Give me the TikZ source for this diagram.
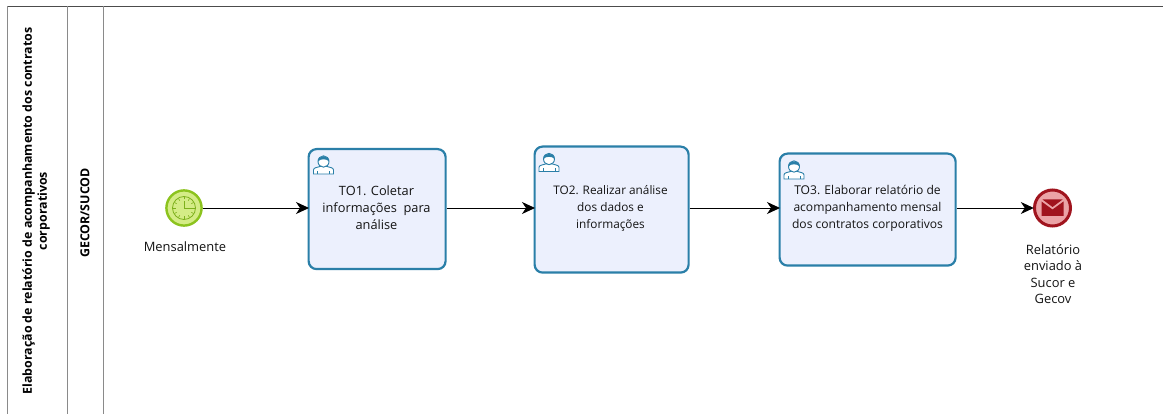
\documentclass[tikz,border=0pt]{standalone}
\usepackage{fontspec}
\setmainfont{Open Sans}
\usetikzlibrary{arrows.meta}
\definecolor{taskb}{HTML}{2A7FA8}
\definecolor{taskf}{HTML}{ECF0FD}
\definecolor{lanec}{HTML}{8A8A8A}
\definecolor{startb}{HTML}{8CC31E}
\definecolor{startf}{HTML}{D4EC86}
\definecolor{startd}{HTML}{7DB01C}
\definecolor{endb}{HTML}{A0141E}
\definecolor{endf}{HTML}{EBA3A6}
\tikzset{
  x=1pt,y=-1pt,
  tasknode/.style={draw=taskb,line width=2.2pt,fill=taskf,rounded corners=8pt,anchor=north west,inner sep=0pt},
  tasklabel/.style={align=center,text=black!92},
  evlabel/.style={align=center,font=\fontsize{12.9}{16.5}\selectfont,text=black!92},
  lanelabel/.style={align=center,rotate=90,font=\fontsize{12.4}{15}\selectfont\bfseries},
  flow/.style={draw=black,line width=0.9pt,shorten >=-1.5pt,-{Stealth[length=13pt,width=12pt,inset=4pt]}},
  lane/.style={draw=lanec,line width=0.8pt},
}
\newcommand{\usericon}[2]{%
  \begin{scope}[shift={(#1,#2)},draw=taskb,line width=0.9pt]
    \draw[fill=white] (-10,10) -- (-10,6) .. controls (-10,3.5) and (-6,3.5) .. (-3.5,2.5) -- (3.5,2.5) .. controls (6,3.5) and (10,3.5) .. (10,6) -- (10,10) -- cycle;
    \draw[fill=white] (0,-2.5) circle[x radius=5.5pt,y radius=5.7pt];
    \fill[taskb] (-5.6,-2.5) .. controls (-5.5,-9.5) and (5.5,-9.5) .. (5.6,-2.5) .. controls (3,-5.5) and (-3,-5.5) .. (-5.6,-2.5) -- cycle;
    \draw (-6,10) -- (-6,7) (6,10) -- (6,7);
  \end{scope}}
\begin{document}
\begin{tikzpicture}
\useasboundingbox (0,0) rectangle (1163,414);
\fill[white] (0,0) rectangle (1163,414);
% pool and lane
\coordinate (tl) at (7,6);
\coordinate (tr) at (1163,6);
\coordinate (bl) at (7,414);
\coordinate (m1t) at (67,6);
\coordinate (m1b) at (67,414);
\coordinate (m2t) at (103,6);
\coordinate (m2b) at (103,414);
\draw[line width=0.8pt,draw=black!70] (tl) -- (tr);
\draw[lane] (tl) -- (bl);
\draw[lane] (m1t) -- (m1b);
\draw[lane] (m2t) -- (m2b);
\node[lanelabel] (pool) at (36,211) {Elaboração de relatório de acompanhamento dos contratos\\corporativos};
\node[lanelabel] (lanetxt) at (85,213) {GECOR/SUCOD};
% start event
\node[circle,minimum size=38pt,inner sep=0pt] (start) at (184,208) {};
\draw[draw=startb,fill=startf,line width=2.4pt] (start.center) circle[radius=17.6pt];
\draw[draw=startd,fill=startf,line width=0.8pt] (start.center) circle[radius=11.5pt];
\foreach \a in {0,30,...,330}{\draw[draw=startd,line width=0.6pt] (184,208)++(\a:8.5) -- ++(\a:2.5);}
\draw[draw=startd,line width=0.8pt] (184,201) -- (184,208) -- (193,208);
\node[evlabel] (startl) at (185,247) {Mensalmente};
% tasks
\node[tasknode,minimum width=137pt,minimum height=120pt] (t1) at (307.5,148) {};
\node[tasklabel,font=\fontsize{12.8}{17}\selectfont] (t1l) at (376.5,208) {TO1. Coletar\\informações\ \ para\\análise};
\usericon{323.5}{164}
\node[tasknode,minimum width=154pt,minimum height=126pt] (t2) at (533.5,145.5) {};
\node[tasklabel,font=\fontsize{11.8}{17}\selectfont] (t2l) at (610.5,208) {TO2. Realizar análise\\dos dados e\\informações};
\usericon{549}{161.5}
\node[tasknode,minimum width=176pt,minimum height=112pt] (t3) at (778.5,152.5) {};
\node[tasklabel,font=\fontsize{12.1}{17}\selectfont] (t3l) at (867.5,208) {TO3. Elaborar relatório de\\acompanhamento mensal\\dos contratos corporativos};
\usericon{794}{169}
% end event
\node[circle,minimum size=40pt,inner sep=0pt] (end) at (1052.5,208) {};
\draw[draw=endb,fill=endf,line width=3pt] (end.center) circle[radius=18pt];
\fill[endb] (1041.5,201.5) -- (1052.5,209.5) -- (1063.5,201.5) -- (1063.5,216) -- (1041.5,216) -- cycle;
\fill[endb] (1042.5,199.5) -- (1062.5,199.5) -- (1052.5,207) -- cycle;
\node[evlabel] (endl) at (1053,274) {Relatório\\enviado à\\Sucor e\\Gecov};
% flows
\draw[flow] (start.east |- 0,208) -- (t1.west |- 0,208);
\draw[flow] (t1.east |- 0,208) -- (t2.west |- 0,208);
\draw[flow] (t2.east |- 0,208) -- (t3.west |- 0,208);
\draw[flow] (t3.east |- 0,208) -- (end.west |- 0,208);
\end{tikzpicture}
\end{document}
